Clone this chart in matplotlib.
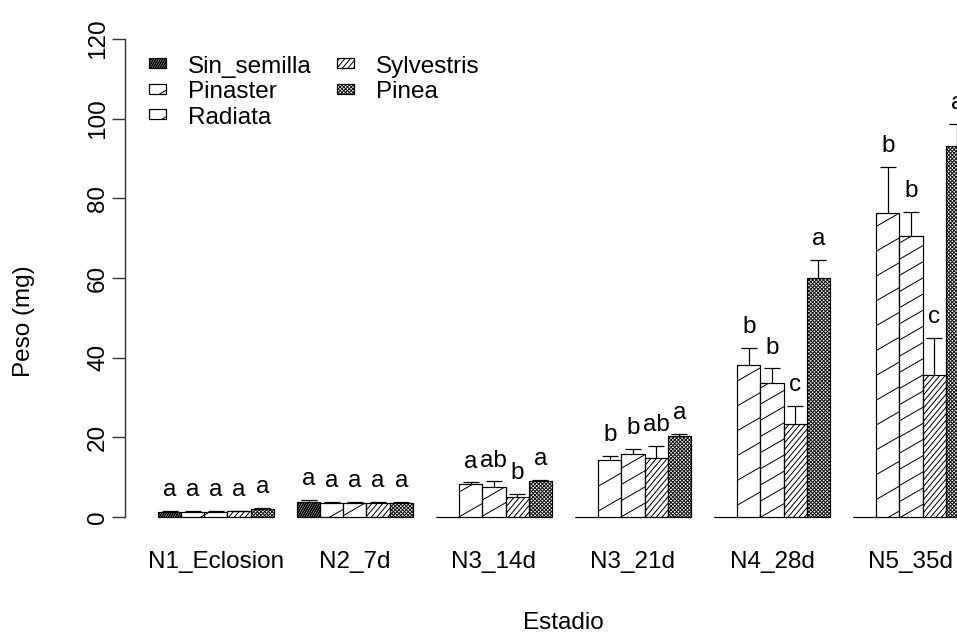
import numpy as np
import matplotlib
matplotlib.use("Agg")
import matplotlib.pyplot as plt
from matplotlib.collections import LineCollection
from matplotlib.patches import Rectangle
from matplotlib.transforms import IdentityTransform

plt.rcParams['font.family'] = ['Liberation Sans', 'DejaVu Sans']

# datos
estadios = ['N1_Eclosion', 'N2_7d', 'N3_14d', 'N3_21d', 'N4_28d', 'N5_35d']
series = ['Sin_semilla', 'Pinaster', 'Radiata', 'Sylvestris', 'Pinea']

sin_semilla = [1.3, 3.8, 0, 0, 0, 0]
pinaster = [1.3, 3.6, 8.3, 14.3, 38.1, 76.4]
radiata = [1.3, 3.6, 7.6, 15.9, 33.7, 70.5]
sylvestris = [1.4, 3.6, 4.9, 14.7, 23.3, 35.7]
pinea = [1.9, 3.6, 9.0, 20.2, 59.9, 93.1]

sin_semilla_se = [0.2, 0.4, 0, 0, 0, 0]
pinaster_se = [0.2, 0.1, 0.4, 1.1, 4.3, 11.5]
radiata_se = [0.2, 0.1, 1.3, 1.1, 3.6, 6.1]
sylvestris_se = [0.2, 0.1, 0.9, 3.1, 4.6, 9.3]
pinea_se = [0.3, 0.1, 0.3, 0.7, 4.6, 5.6]

sin_semilla_let = ['a', 'a', '', '', '', '']
pinaster_let = ['a', 'a', 'a', 'b', 'b', 'b']
radiata_let = ['a', 'a', 'ab', 'b', 'b', 'b']
sylvestris_let = ['a', 'a', 'b', 'ab', 'c', 'c']
pinea_let = ['a', 'a', 'a', 'a', 'a', 'a']

valores = [sin_semilla, pinaster, radiata, sylvestris, pinea]
errores = [sin_semilla_se, pinaster_se, radiata_se, sylvestris_se, pinea_se]
letras = [sin_semilla_let, pinaster_let, radiata_let, sylvestris_let, pinea_let]

# tramas: lista de (angulo, separacion px, grosor px, color)
tramas = [
    [(60, 2.0, 1.7, 'black')],
    [(30, 21.5, 1.0, 'black')],
    [(30, 14.0, 1.0, 'black')],
    [(50, 4.2, 1.0, 'black')],
    [(45, 2.6, 1.0, 'black'), (-45, 2.6, 1.0, 'black')],
]

W, H = 957, 633
fig = plt.figure(figsize=(W / 100, H / 100), dpi=100)
ax = fig.add_axes([125 / W, 97 / H, 832 / W, 516 / H])
ax.set_xlim(-0.423, 35.486)
ax.set_ylim(-4.8, 124.8)


def lineas_trama(x0, y0, x1, y1, ang, gap):
    a = np.radians(ang)
    d = np.array([np.cos(a), np.sin(a)])
    n = np.array([-np.sin(a), np.cos(a)])
    esq = np.array([[x0, y0], [x1, y0], [x0, y1], [x1, y1]])
    pn = esq @ n
    pd = esq @ d
    segs = []
    for k in np.arange(np.floor(pn.min() / gap), np.ceil(pn.max() / gap) + 1):
        base = k * gap * n
        segs.append([base + (pd.min() - 2) * d, base + (pd.max() + 2) * d])
    return segs


def tramar(patch, trama, en_fig=False):
    bb = patch.get_window_extent()
    for ang, gap, lw, col in trama:
        segs = lineas_trama(bb.x0, bb.y0, bb.x1, bb.y1, ang, gap)
        lc = LineCollection(segs, colors=col, linewidths=lw * 0.72,
                            transform=IdentityTransform(), zorder=2.5)
        lc.set_clip_path(patch.get_path(), patch.get_transform())
        if en_fig:
            fig.add_artist(lc)
        else:
            ax.add_collection(lc, autolim=False)


fs = 17.5
for j, (vals, errs, lets) in enumerate(zip(valores, errores, letras)):
    x = np.arange(len(estadios)) * 6 + 1 + j
    barras = ax.bar(x, vals, width=1, align='edge', color='white',
                    edgecolor='black', linewidth=0.8, zorder=2)
    for b in barras:
        if b.get_height() > 0:
            tramar(b, tramas[j])
    xc = x + 0.5
    e = np.array(errs)
    v = np.array(vals)
    m = e > 0
    ax.vlines(xc[m], v[m], v[m] + e[m], color='black', lw=0.9, zorder=3)
    ax.hlines(v[m] + e[m], xc[m] - 0.345, xc[m] + 0.345, color='black', lw=0.9, zorder=3)
    for xi, vi, ei, li in zip(xc, v, e, lets):
        if li:
            ax.text(xi, vi + ei + 3.7, li, ha='center', va='baseline', fontsize=fs)

# bordes de barra otra vez por encima de la trama
for j, vals in enumerate(valores):
    x = np.arange(len(estadios)) * 6 + 1 + j
    ax.bar(x, vals, width=1, align='edge', fill=False,
           edgecolor='black', linewidth=0.8, zorder=2.8)

ax.set_xticks(np.arange(len(estadios)) * 6 + 3.5)
ax.set_xticklabels(estadios, fontsize=fs)
ax.tick_params(axis='x', length=0, pad=11)
ax.set_yticks(range(0, 121, 20))
ax.tick_params(axis='y', length=9.4, width=1.0, color='#333333', pad=2, labelsize=fs)
for t in ax.get_yticklabels():
    t.set_rotation(90)
    t.set_va('center')

for s in ['top', 'right', 'bottom']:
    ax.spines[s].set_visible(False)
ax.spines['left'].set_bounds(0, 120)
ax.spines['left'].set_color('#333333')
ax.spines['left'].set_linewidth(1.0)

ax.set_xlabel('Estadio', fontsize=fs, va='baseline')
ax.xaxis.set_label_coords(0.527, -0.180)
ax.set_ylabel('Peso (mg)', fontsize=fs)
ax.yaxis.set_label_coords(-0.108, 0.4167)

# leyenda a mano, dos columnas
leg_pos = [(149, 63), (149, 88.5), (149, 114), (337, 63), (337, 88.5)]
for j, (name, (kx, ky)) in enumerate(zip(series, leg_pos)):
    r = Rectangle((kx, H - ky - 5), 17, 10, facecolor='white', edgecolor='black',
                  linewidth=0.8, transform=IdentityTransform())
    fig.add_artist(r)
    tramar(r, tramas[j], en_fig=True)
    r2 = Rectangle((kx, H - ky - 5), 17, 10, fill=False, edgecolor='black',
                   linewidth=0.8, transform=IdentityTransform(), zorder=3)
    fig.add_artist(r2)
    fig.text((kx + 39) / W, (H - ky - 9.5) / H, name, fontsize=fs, va='baseline')

fig.savefig('out.png', dpi=100)
